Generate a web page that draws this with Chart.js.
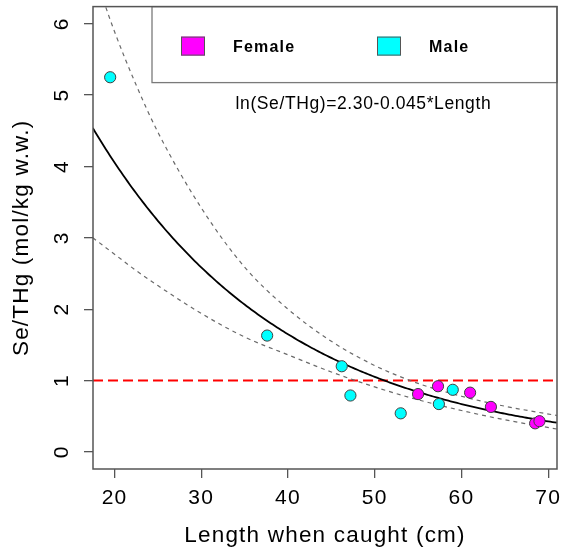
<!DOCTYPE html>
<html>
<head>
<meta charset="utf-8">
<script src="https://cdn.jsdelivr.net/npm/chart.js@4/dist/chart.umd.min.js"></script>
<style>
  html, body { margin: 0; padding: 0; background: #ffffff; }
  #wrap { width: 566px; height: 556px; }
</style>
</head>
<body>
<div id="wrap"><canvas id="c" width="566" height="556"></canvas></div>
<script>
// Se/THg molar ratio against fish length, by sex
const xTicks = [20, 30, 40, 50, 60, 70];
const yTicks = [0, 1, 2, 3, 4, 5, 6];

const maleLength = [19.5, 37.6, 46.2, 47.2, 53.0, 57.4, 59.0];
const maleRatio  = [5.25, 1.63, 1.20, 0.79, 0.54, 0.67, 0.87];

const femaleLength = [55.0, 57.3, 61.0, 63.4, 68.5, 69.0];
const femaleRatio  = [0.81, 0.92, 0.83, 0.63, 0.40, 0.43];

// fitted model: ln(Se/THg) = 2.30 - 0.045 * Length
const fitIntercept = 2.30;
const fitSlope = -0.045;

// 95% confidence band around the fitted curve
const bandLength = [17.5, 20, 22.5, 25, 30, 35, 40, 45, 50, 55, 60, 65, 71];
const bandUpper  = [6.76, 5.89, 5.14, 4.48, 3.42, 2.59, 2.00, 1.55, 1.21, 0.96, 0.78, 0.64, 0.51];
const bandLower  = [3.00, 2.77, 2.54, 2.33, 1.94, 1.61, 1.36, 1.12, 0.91, 0.73, 0.58, 0.45, 0.32];

const threshold = 1;
const xRange = [17.52, 71.02];
const yRange = [-0.24, 6.24];

const FONT = "'Liberation Sans', Arial, Helvetica, sans-serif";
const SPACING = '1.2px';

const pts = (xs, ys) => xs.map((x, i) => ({ x, y: ys[i] }));

const fitPts = [];
for (let x = 17.5; x <= 71.001; x += 0.25) {
  fitPts.push({ x, y: Math.exp(fitIntercept + fitSlope * x) });
}

const spacingPlugin = {
  id: 'spacing',
  beforeUpdate(c) { c.ctx.letterSpacing = SPACING; },
  beforeDraw(c) { c.ctx.letterSpacing = SPACING; }
};

const framePlugin = {
  id: 'frame',
  afterDatasetsDraw(c) {
    const { ctx, chartArea: a, scales } = c;
    ctx.save();

    // legend box in the upper right of the plot
    const lx0 = a.left + 59, ly0 = a.top, lx1 = a.right, ly1 = a.top + 76;
    ctx.fillStyle = '#ffffff';
    ctx.fillRect(lx0, ly0, lx1 - lx0, ly1 - ly0);
    ctx.strokeStyle = '#7a7a7a';
    ctx.lineWidth = 1.3;
    ctx.strokeRect(lx0, ly0, lx1 - lx0, ly1 - ly0);

    const items = [
      { label: 'Female', color: '#ff00ff', x: a.left + 88 },
      { label: 'Male', color: '#00ffff', x: a.left + 284 }
    ];
    ctx.letterSpacing = '1.2px';
    ctx.font = "bold 16px " + FONT;
    ctx.textBaseline = 'middle';
    ctx.textAlign = 'left';
    items.forEach(it => {
      ctx.fillStyle = it.color;
      ctx.fillRect(it.x, a.top + 30, 24, 19);
      ctx.strokeStyle = '#555555';
      ctx.lineWidth = 1;
      ctx.strokeRect(it.x + 0.5, a.top + 30.5, 23, 18);
      ctx.fillStyle = '#000000';
      ctx.fillText(it.label, it.x + 52, a.top + 41);
    });

    // model equation
    ctx.letterSpacing = '0.6px';
    ctx.font = "17.5px " + FONT;
    ctx.textAlign = 'center';
    ctx.fillText('ln(Se/THg)=2.30-0.045*Length',
      scales.x.getPixelForValue(48.7), scales.y.getPixelForValue(4.87));

    // plot frame
    ctx.strokeStyle = '#555555';
    ctx.lineWidth = 1.5;
    ctx.strokeRect(a.left, a.top, a.right - a.left, a.bottom - a.top);
    ctx.restore();
  }
};

const axisGrid = { drawOnChartArea: false, drawTicks: true, tickLength: 9, color: '#555555', lineWidth: 1.3 };

new Chart(document.getElementById('c'), {
  type: 'scatter',
  data: {
    datasets: [
      {
        label: 'Female',
        data: pts(femaleLength, femaleRatio),
        backgroundColor: '#ff00ff',
        borderColor: '#3f3f3f',
        borderWidth: 1,
        pointRadius: 5.6,
        pointHoverRadius: 5.6
      },
      {
        label: 'Male',
        data: pts(maleLength, maleRatio),
        backgroundColor: '#00ffff',
        borderColor: '#3f3f3f',
        borderWidth: 1,
        pointRadius: 5.6,
        pointHoverRadius: 5.6
      },
      {
        type: 'line',
        label: 'Fit',
        data: fitPts,
        borderColor: '#000000',
        borderWidth: 1.8,
        pointRadius: 0,
        fill: false,
        tension: 0
      },
      {
        type: 'line',
        label: 'Upper 95%',
        data: pts(bandLength, bandUpper),
        borderColor: '#6a6a6a',
        borderWidth: 1.2,
        borderDash: [4, 4],
        pointRadius: 0,
        fill: false,
        cubicInterpolationMode: 'monotone'
      },
      {
        type: 'line',
        label: 'Lower 95%',
        data: pts(bandLength, bandLower),
        borderColor: '#6a6a6a',
        borderWidth: 1.2,
        borderDash: [4, 4],
        pointRadius: 0,
        fill: false,
        cubicInterpolationMode: 'monotone'
      },
      {
        type: 'line',
        label: 'Threshold',
        data: [{ x: xRange[0], y: threshold }, { x: xRange[1], y: threshold }],
        borderColor: '#ff0000',
        borderWidth: 2,
        borderDash: [10, 5],
        pointRadius: 0,
        fill: false
      }
    ]
  },
  options: {
    responsive: false,
    animation: false,
    devicePixelRatio: 1,
    events: [],
    layout: { padding: { top: 6, right: 9, left: 0, bottom: 0 } },
    plugins: { legend: { display: false }, tooltip: { enabled: false } },
    scales: {
      x: {
        type: 'linear',
        position: 'bottom',
        min: xRange[0],
        max: xRange[1],
        afterBuildTicks: s => { s.ticks = xTicks.map(v => ({ value: v })); },
        afterFit: s => { s.height = 87; s.paddingLeft = 0; s.paddingRight = 0; },
        grid: axisGrid,
        border: { display: false },
        ticks: { font: { family: FONT, size: 21 }, color: '#000000', padding: 8, maxRotation: 0, autoSkip: false },
        title: {
          display: true,
          text: 'Length when caught (cm)',
          font: { family: FONT, size: 22.5 },
          color: '#000000',
          padding: { top: 0, bottom: 7 }
        }
      },
      y: {
        type: 'linear',
        position: 'left',
        min: yRange[0],
        max: yRange[1],
        afterBuildTicks: s => { s.ticks = yTicks.map(v => ({ value: v })); },
        afterFit: s => { s.width = 93; s.paddingTop = 0; s.paddingBottom = 0; },
        grid: axisGrid,
        border: { display: false },
        ticks: {
          font: { family: FONT, size: 21 },
          color: '#000000',
          minRotation: 90,
          maxRotation: 90,
          crossAlign: 'center',
          padding: 15,
          autoSkip: false
        },
        title: {
          display: true,
          text: 'Se/THg (mol/kg w.w.)',
          font: { family: FONT, size: 22.5 },
          color: '#000000',
          padding: { top: 8, bottom: 0 }
        }
      }
    }
  },
  plugins: [spacingPlugin, framePlugin]
});
</script>
</body>
</html>
